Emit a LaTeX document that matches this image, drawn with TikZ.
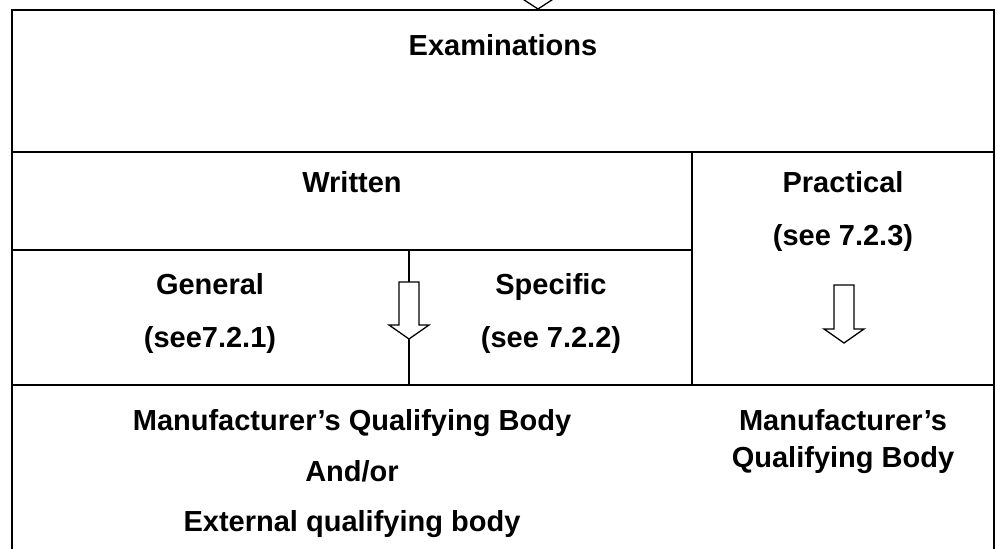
\documentclass[tikz,border=0pt]{standalone}
\usepackage{fontspec}
\setmainfont{Liberation Sans}
\begin{document}
\begin{tikzpicture}[x=1pt,y=-1pt,
  frame/.style={line width=2.8pt},
  blockarrow/.style={line width=1.3pt, fill=white, line join=miter},
  lbl/.style={font=\bfseries\fontsize{29}{31}\selectfont, anchor=base, inner sep=0pt}]
\useasboundingbox (0,0) rectangle (997,549);
\clip (0,0) rectangle (997,549);
% corners
\coordinate (tl) at (12,10);
\coordinate (tr) at (994,10);
\coordinate (bl) at (12,560);
\coordinate (br) at (994,560);
% top incoming arrow
\draw[blockarrow] (528,-40) -- (548,-40) -- (548,-6) -- (561,-6) -- (538,9) -- (515,-6) -- (528,-6) -- cycle;
% frame
\draw[frame] (bl) -- (tl) -- (tr) -- (br);
\draw[frame] (12,152) -- (994,152);
\draw[frame] (12,250) -- (692,250);
\draw[frame] (12,385) -- (994,385);
\draw[frame] (692,152) -- (692,385);
\coordinate (mtop) at (409,250);
\coordinate (mbot) at (409,385);
\draw[line width=2pt] (mtop) -- (409,282);
\draw[line width=2pt] (409,339) -- (mbot);
% middle arrow
\draw[blockarrow] (399,282) -- (419,282) -- (419,325) -- (429,325) -- (409,339) -- (389,325) -- (399,325) -- cycle;
% right arrow
\draw[blockarrow] (834,285) -- (854,285) -- (854,329) -- (864,329) -- (844,343) -- (824,329) -- (834,329) -- cycle;
% texts
\node[lbl] (exam) at (503,55) {Examinations};
\node[lbl] (writ) at (352,192) {Written};
\node[lbl] (prac) at (843,192) {Practical};
\node[lbl] (prac2) at (843,245) {(see 7.2.3)};
\node[lbl] (gen) at (210,294) {General};
\node[lbl] (gen2) at (210,347) {(see7.2.1)};
\node[lbl] (spec) at (551,294) {Specific};
\node[lbl] (spec2) at (551,347) {(see 7.2.2)};
\node[lbl] (mqb) at (352,430) {Manufacturer’s Qualifying Body};
\node[lbl] (andor) at (352,481) {And/or};
\node[lbl] (ext) at (352,531) {External qualifying body};
\node[lbl] (rmqb1) at (843,430) {Manufacturer’s};
\node[lbl] (rmqb2) at (843,467) {Qualifying Body};
\end{tikzpicture}
\end{document}
